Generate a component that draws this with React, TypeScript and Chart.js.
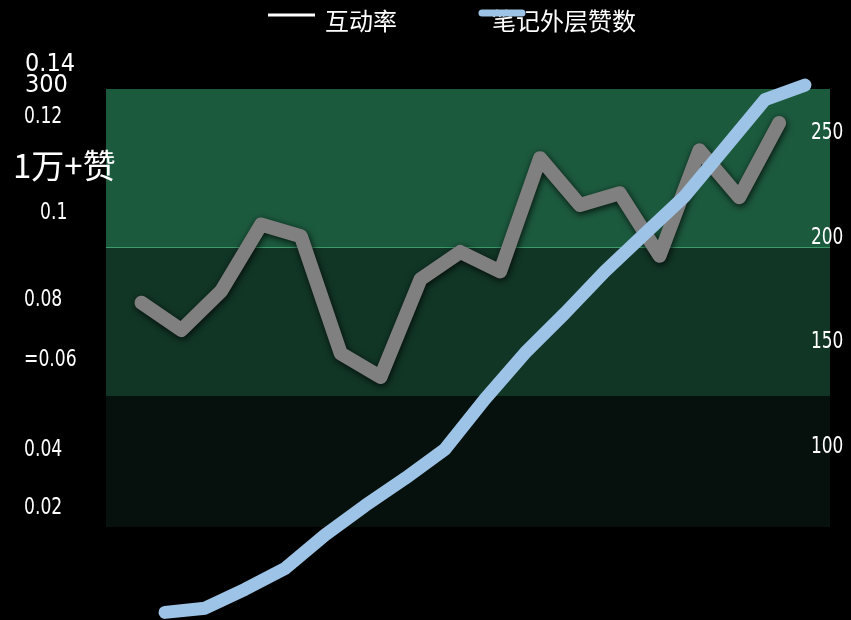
import React, { useEffect, useRef } from 'react';
import { Chart, registerables } from 'chart.js';

Chart.register(...registerables);

// ---- data ----
const seriesNames = ['互动率', '笔记外层赞数'];
const interactionRate = [0.075, 0.068, 0.078, 0.095, 0.092, 0.062, 0.056, 0.081, 0.088, 0.083, 0.112, 0.1, 0.103, 0.087, 0.114, 0.102, 0.121];
const outerLikes = [20, 22, 31, 41, 57, 71, 84, 98, 122, 144, 163, 183, 201, 219, 242, 265, 272];
const leftTickLabels = ['0.14', '300', '0.12', '1万+赞', '0.1', '0.08', '=0.06', '0.04', '0.02'];
const leftTickValues = [0.1364, 0.131, 0.123, 0.1103, 0.0985, 0.0762, 0.0609, 0.0378, 0.023];
const rightTickValues = [100, 150, 200, 250];

// ---- styling ----
const NARROW = "'Liberation Sans Narrow', 'DejaVu Sans Condensed', 'Open Sans', sans-serif";
const CJK = "'Noto Sans CJK SC', 'Noto Sans', sans-serif";
const bandEdges = [194.6, 123.4];
const bandColors = ['#1c5a3e', '#113626', '#06110d'];
const TEXT_DY = 2;

function squeezedText(ctx: any, text: string, x: number, y: number, sx: number) {
  ctx.save();
  ctx.translate(x, y);
  ctx.scale(sx, 1);
  ctx.fillText(text, 0, 0);
  ctx.restore();
}

const decor = {
  id: 'decor',
  beforeDraw(chart: any) {
    const { ctx, chartArea: a, width, height } = chart;
    const yR = chart.scales.yR;
    ctx.save();
    ctx.fillStyle = '#000';
    ctx.fillRect(0, 0, width, height);
    const e1 = yR.getPixelForValue(bandEdges[0]);
    const e2 = yR.getPixelForValue(bandEdges[1]);
    const edges = [a.top, e1, e2, a.bottom];
    for (let i = 0; i < 3; i++) {
      ctx.fillStyle = bandColors[i];
      ctx.fillRect(a.left, edges[i], a.right - a.left, edges[i + 1] - edges[i]);
    }
    ctx.strokeStyle = '#3f9a6b';
    ctx.lineWidth = 1;
    ctx.beginPath();
    ctx.moveTo(a.left, Math.round(e1) + 0.5);
    ctx.lineTo(a.right, Math.round(e1) + 0.5);
    ctx.stroke();
    ctx.restore();
  },
  beforeDatasetDraw(chart: any, args: any) {
    const ctx = chart.ctx;
    ctx.save();
    if (args.index === 0) {
      ctx.shadowColor = 'rgba(0,0,0,0.8)';
      ctx.shadowBlur = 7;
      ctx.shadowOffsetX = 1;
      ctx.shadowOffsetY = 2;
    }
  },
  afterDatasetDraw(chart: any) {
    chart.ctx.restore();
  },
  afterDraw(chart: any) {
    const { ctx } = chart;
    const yL = chart.scales.yL;
    const yR = chart.scales.yR;
    ctx.save();
    ctx.fillStyle = '#ffffff';
    ctx.textBaseline = 'middle';
    ctx.textAlign = 'left';
    // left labels
    leftTickLabels.forEach((lab, i) => {
      const y = yL.getPixelForValue(leftTickValues[i]) + TEXT_DY;
      if (lab === '1万+赞') {
        ctx.font = `33px ${CJK}`;
        ctx.fillText(lab, 13, y - 1);
      } else if (lab === '0.14' || lab === '300') {
        ctx.font = `25px ${NARROW}`;
        ctx.fillText(lab, 25, y);
      } else {
        ctx.font = `23px ${NARROW}`;
        squeezedText(ctx, lab, lab === '0.1' ? 40 : 24, y, 0.83);
      }
    });
    // right labels
    ctx.font = `23px ${NARROW}`;
    rightTickValues.forEach((v) => {
      squeezedText(ctx, String(v), 811, yR.getPixelForValue(v) + TEXT_DY, 0.82);
    });
    // legend
    const ds = chart.data.datasets;
    ctx.strokeStyle = '#ffffff';
    ctx.lineWidth = 3;
    ctx.lineCap = 'butt';
    ctx.beginPath();
    ctx.moveTo(268, 15);
    ctx.lineTo(315, 15);
    ctx.stroke();
    ctx.font = `24px ${CJK}`;
    ctx.fillText(ds[0].label, 325, 21);
    ctx.fillText(ds[1].label, 492, 21);
    ctx.strokeStyle = '#9dc3e6';
    ctx.lineWidth = 7;
    ctx.lineCap = 'round';
    ctx.beginPath();
    ctx.moveTo(482, 13);
    ctx.lineTo(522, 13);
    ctx.stroke();
    ctx.restore();
  },
};

export default function App() {
  const ref = useRef<HTMLCanvasElement | null>(null);
  useEffect(() => {
    document.body.style.margin = '0';
    document.body.style.background = '#000';
    const canvas = ref.current;
    if (!canvas) return;
    const chart = new Chart(canvas, {
      type: 'line',
      data: {
        datasets: [
          {
            label: seriesNames[0],
            data: interactionRate.map((v, i) => ({ x: i, y: v })),
            xAxisID: 'xG',
            yAxisID: 'yL',
            borderColor: '#808080',
            borderWidth: 14,
            borderJoinStyle: 'round',
            borderCapStyle: 'round',
            pointRadius: 0,
            tension: 0,
            clip: false,
            order: 1,
          },
          {
            label: seriesNames[1],
            data: outerLikes.map((v, i) => ({ x: i, y: v })),
            xAxisID: 'xB',
            yAxisID: 'yR',
            borderColor: '#9dc3e6',
            borderWidth: 13,
            borderJoinStyle: 'round',
            borderCapStyle: 'round',
            pointRadius: 0,
            tension: 0,
            clip: false,
            order: 0,
          },
        ],
      },
      options: {
        responsive: false,
        animation: false,
        devicePixelRatio: 1,
        layout: { padding: { left: 106, right: 21, top: 89, bottom: 93 } },
        plugins: { legend: { display: false }, tooltip: { enabled: false } },
        events: [],
        scales: {
          xG: { type: 'linear', display: false, min: -0.891, max: 17.277 },
          xB: { type: 'linear', display: false, min: -1.475, max: 16.625 },
          yL: { type: 'linear', display: false, min: 0.0176, max: 0.1297 },
          yR: { type: 'linear', display: false, min: 60.8, max: 270.1 },
        },
      } as any,
      plugins: [decor],
    });
    return () => chart.destroy();
  }, []);
  return (
    <div style={{ width: 851, height: 620, background: '#000' }}>
      <canvas ref={ref} width={851} height={620} style={{ display: 'block' }} />
    </div>
  );
}
